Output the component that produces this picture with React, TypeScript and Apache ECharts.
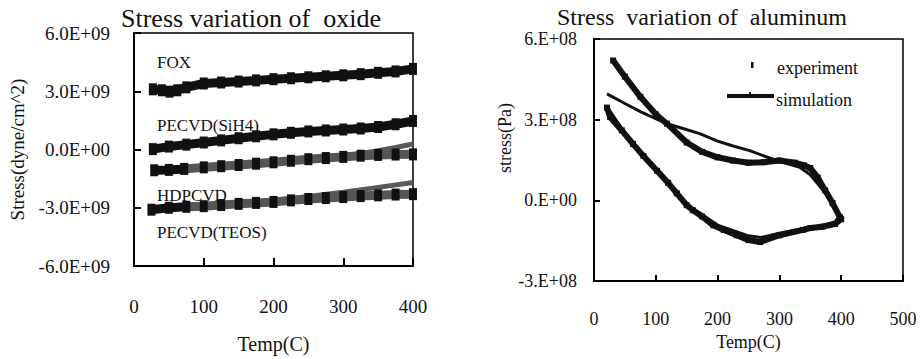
import React, { useEffect, useRef } from "react";
import * as echarts from "echarts";

// ---------- Oxide chart (stress in 1E9 dyne/cm^2) ----------
const oxideYTickValues = [-6, -3, 0, 3, 6];
const oxideYTickLabels = ["-6.0E+09", "-3.0E+09", "0.0E+00", "3.0E+09", "6.0E+09"];

const foxT = [27, 40, 51, 62, 75, 100, 125, 150, 175, 200, 225, 250, 275, 300, 325, 350, 375, 400];
const foxS = [3.1, 3.05, 2.98, 3.05, 3.2, 3.4, 3.45, 3.5, 3.56, 3.62, 3.67, 3.72, 3.77, 3.82, 3.88, 3.95, 4.02, 4.15];

const sih4T = [27, 50, 75, 100, 125, 150, 175, 200, 225, 250, 275, 300, 325, 350, 375, 400];
const sih4S = [0.02, 0.15, 0.25, 0.36, 0.47, 0.58, 0.68, 0.78, 0.86, 0.93, 0.98, 1.03, 1.08, 1.16, 1.3, 1.47];

const hdpExpT = [29, 50, 72, 100, 125, 150, 175, 200, 225, 250, 275, 300, 325, 350, 375, 400];
const hdpExpS = [-1.07, -1.05, -1.0, -0.92, -0.86, -0.8, -0.73, -0.66, -0.58, -0.5, -0.44, -0.38, -0.32, -0.28, -0.26, -0.25];
const hdpSimT = [72, 100, 150, 200, 250, 300, 325, 350, 375, 400];
const hdpSimS = [-1.0, -0.93, -0.8, -0.66, -0.5, -0.32, -0.2, -0.06, 0.1, 0.28];

const teosExpT = [25, 50, 75, 100, 125, 150, 175, 200, 225, 250, 275, 300, 325, 350, 375, 400];
const teosExpS = [-3.1, -3.0, -2.95, -2.92, -2.86, -2.8, -2.75, -2.7, -2.62, -2.55, -2.5, -2.45, -2.4, -2.36, -2.32, -2.3];
const teosSimT = [75, 100, 150, 200, 250, 300, 350, 400];
const teosSimS = [-2.95, -2.9, -2.77, -2.63, -2.42, -2.2, -1.95, -1.7];

const oxideLabels = ["FOX", "PECVD(SiH4)", "HDPCVD", "PECVD(TEOS)"];

// ---------- Aluminum chart (stress in 1E8 Pa) ----------
const alYTickValues = [-3, 0, 3, 6];
const alYTickLabels = ["-3.E+08", "0.E+00", "3.E+08", "6.E+08"];

const alExpT = [31, 50, 75, 100, 118, 150, 175, 200, 225, 250, 275, 300, 325, 340, 350, 362, 374, 386, 398,
  400, 390, 370, 350, 338, 300, 269, 250, 231, 210, 193, 175, 160, 150, 134, 120, 102, 80, 63, 45, 26, 21];
const alExpS = [5.2, 4.6, 3.85, 3.2, 2.85, 2.15, 1.8, 1.6, 1.48, 1.4, 1.42, 1.48, 1.4, 1.3, 1.2, 0.85, 0.37, -0.1, -0.63,
  -0.7, -0.88, -0.98, -1.03, -1.1, -1.3, -1.55, -1.48, -1.3, -1.1, -0.93, -0.6, -0.37, -0.18, 0.26, 0.65, 1.1, 1.65, 2.1, 2.6, 3.1, 3.45];

const alSimT = [21, 50, 75, 107, 118, 140, 171, 200, 225, 252, 275, 300, 333, 350, 375, 398,
  390, 370, 350, 300, 270, 250, 200, 150, 100, 50, 25];
const alSimS = [3.96, 3.6, 3.3, 2.96, 2.85, 2.7, 2.48, 2.2, 2.02, 1.85, 1.65, 1.45, 1.23, 0.95, 0.25, -0.55,
  -0.8, -0.93, -1.0, -1.22, -1.38, -1.32, -0.92, -0.15, 1.15, 2.5, 3.35];

const legendNames = ["experiment", "simulation"];

const SERIF = "Liberation Serif";
const INK = "#111";

const pairs = (xs: number[], ys: number[]) => xs.map((x, i) => [x, ys[i]]);
const fmt = (vals: number[], labels: string[]) => (v: number) => {
  const i = vals.findIndex((t) => Math.abs(t - v) < 1e-9);
  return i >= 0 ? labels[i] : "";
};

const txt = (text: string, x: number, y: number, size: number, align: string, z = 10, extra: any = {}) => ({
  type: "text", x, y, z, ...extra,
  style: { text, fill: INK, fontFamily: SERIF, fontSize: size, align, verticalAlign: "middle", textAlign: align, textVerticalAlign: "middle" },
});

export default function App() {
  const ref = useRef<HTMLDivElement>(null);
  useEffect(() => {
    document.body.style.margin = "0";
    if (!ref.current) return;
    const chart = echarts.init(ref.current, undefined, { renderer: "svg" });

    const grayFade = new echarts.graphic.LinearGradient(134, 0, 413, 0, [
      { offset: 0, color: "#111" },
      { offset: 0.17, color: "#111" },
      { offset: 0.19, color: "#555" },
      { offset: 1, color: "#555" },
    ], true);

    const lab = { color: INK, fontFamily: SERIF };

    const option: any = {
      animation: false,
      backgroundColor: "#fff",
      textStyle: { fontFamily: SERIF },
      grid: [
        { left: 134, top: 33, width: 279, height: 236, show: true, borderColor: "#000", borderWidth: 1.5, backgroundColor: "transparent" },
        { left: 594, top: 39, width: 309, height: 242, show: true, borderColor: "#000", borderWidth: 1.5, backgroundColor: "transparent" },
      ],
      xAxis: [
        {
          type: "value", gridIndex: 0, min: 0, max: 400, interval: 100,
          axisLine: { show: true, onZero: false, lineStyle: { color: "#000", width: 2 } },
          axisTick: { show: true, inside: true, length: 8, lineStyle: { color: "#000", width: 2 } },
          splitLine: { show: false },
          axisLabel: { ...lab, fontSize: 19, margin: 31 },
          name: "Temp(C)", nameLocation: "middle", nameGap: 68,
          nameTextStyle: { color: INK, fontFamily: SERIF, fontSize: 20 },
        },
        {
          type: "value", gridIndex: 1, min: 0, max: 500, interval: 100,
          axisLine: { show: true, onZero: false, lineStyle: { color: "#000", width: 2 } },
          axisTick: { show: true, inside: true, length: 6, lineStyle: { color: "#000", width: 2 } },
          splitLine: { show: false },
          axisLabel: { ...lab, fontSize: 18, margin: 29 },
          name: "Temp(C)", nameLocation: "middle", nameGap: 46,
          nameTextStyle: { color: INK, fontFamily: SERIF, fontSize: 18 },
        },
      ],
      yAxis: [
        {
          type: "value", gridIndex: 0, min: -6, max: 6, interval: 3,
          axisLine: { show: true, onZero: false, lineStyle: { color: "#000", width: 2 } },
          axisTick: { show: true, inside: true, length: 7, lineStyle: { color: "#000", width: 2 } },
          splitLine: { show: false },
          axisLabel: { ...lab, fontSize: 19, margin: 24, formatter: fmt(oxideYTickValues, oxideYTickLabels) },
          name: "Stress(dyne/cm^2)", nameLocation: "middle", nameGap: 107, nameRotate: 90,
          nameTextStyle: { color: INK, fontFamily: SERIF, fontSize: 19 },
        },
        {
          type: "value", gridIndex: 1, min: -3, max: 6, interval: 3,
          axisLine: { show: true, onZero: false, lineStyle: { color: "#000", width: 2 } },
          axisTick: { show: true, inside: true, length: 6, lineStyle: { color: "#000", width: 2 } },
          splitLine: { show: false },
          axisLabel: { ...lab, fontSize: 18, margin: 17, formatter: fmt(alYTickValues, alYTickLabels) },
        },
      ],
      series: [
        {
          name: oxideLabels[0], type: "line", xAxisIndex: 0, yAxisIndex: 0, data: pairs(foxT, foxS),
          lineStyle: { color: "#111", width: 9 }, symbol: "rect", symbolSize: [8, 12], itemStyle: { color: "#111" }, z: 3,
        },
        {
          name: oxideLabels[1], type: "line", xAxisIndex: 0, yAxisIndex: 0, data: pairs(sih4T, sih4S),
          lineStyle: { color: "#111", width: 9 }, symbol: "rect", symbolSize: [8, 12], itemStyle: { color: "#111" }, z: 3,
        },
        {
          name: oxideLabels[2] + " sim", type: "line", xAxisIndex: 0, yAxisIndex: 0, data: pairs(hdpSimT, hdpSimS),
          lineStyle: { color: "#5a5a5a", width: 5 }, symbol: "none", z: 3,
        },
        {
          name: oxideLabels[2], type: "line", xAxisIndex: 0, yAxisIndex: 0, data: pairs(hdpExpT, hdpExpS),
          lineStyle: { color: grayFade, width: 9 }, symbol: "rect", symbolSize: [8, 12], itemStyle: { color: grayFade }, z: 3,
        },
        {
          name: oxideLabels[3] + " sim", type: "line", xAxisIndex: 0, yAxisIndex: 0, data: pairs(teosSimT, teosSimS),
          lineStyle: { color: "#5a5a5a", width: 5 }, symbol: "none", z: 3,
        },
        {
          name: oxideLabels[3], type: "line", xAxisIndex: 0, yAxisIndex: 0, data: pairs(teosExpT, teosExpS),
          lineStyle: { color: grayFade, width: 9 }, symbol: "rect", symbolSize: [8, 12], itemStyle: { color: grayFade }, z: 3,
        },
        {
          name: legendNames[0], type: "line", xAxisIndex: 1, yAxisIndex: 1, data: pairs(alExpT, alExpS),
          lineStyle: { color: "#111", width: 6 }, symbol: "rect", symbolSize: 6, itemStyle: { color: "#111" }, z: 3,
        },
        {
          name: legendNames[1], type: "line", xAxisIndex: 1, yAxisIndex: 1, data: pairs(alSimT, alSimS),
          lineStyle: { color: "#111", width: 3 }, symbol: "none", z: 4,
        },
      ],
      graphic: [
        txt("Stress variation of  oxide", 251, 18, 26, "center"),
        txt("Stress  variation of  aluminum", 702, 17, 24, "center"),
        txt(oxideLabels[0], 157, 62, 17, "left", 1),
        txt(oxideLabels[1], 157, 125, 17, "left", 1),
        txt(oxideLabels[2], 157, 195, 17, "left", 1),
        txt(oxideLabels[3], 157, 232, 17, "left", 1),
        txt("stress(Pa)", 505, 138, 18, "center", 10, { rotation: Math.PI / 2 }),
        { type: "rect", x: 751, y: 62, z: 10, shape: { width: 2.5, height: 6 }, style: { fill: "#111" } },
        txt(legendNames[0], 777, 68, 18, "left"),
        { type: "line", z: 10, shape: { x1: 727, y1: 96, x2: 774, y2: 96 }, style: { stroke: "#111", lineWidth: 4 } },
        { type: "rect", x: 749, y: 92, z: 10, shape: { width: 2, height: 5 }, style: { fill: "#111" } },
        txt(legendNames[1], 776, 100, 18, "left"),
      ],
    };
    chart.setOption(option);
    return () => chart.dispose();
  }, []);
  return <div ref={ref} style={{ width: 924, height: 359 }} />;
}
